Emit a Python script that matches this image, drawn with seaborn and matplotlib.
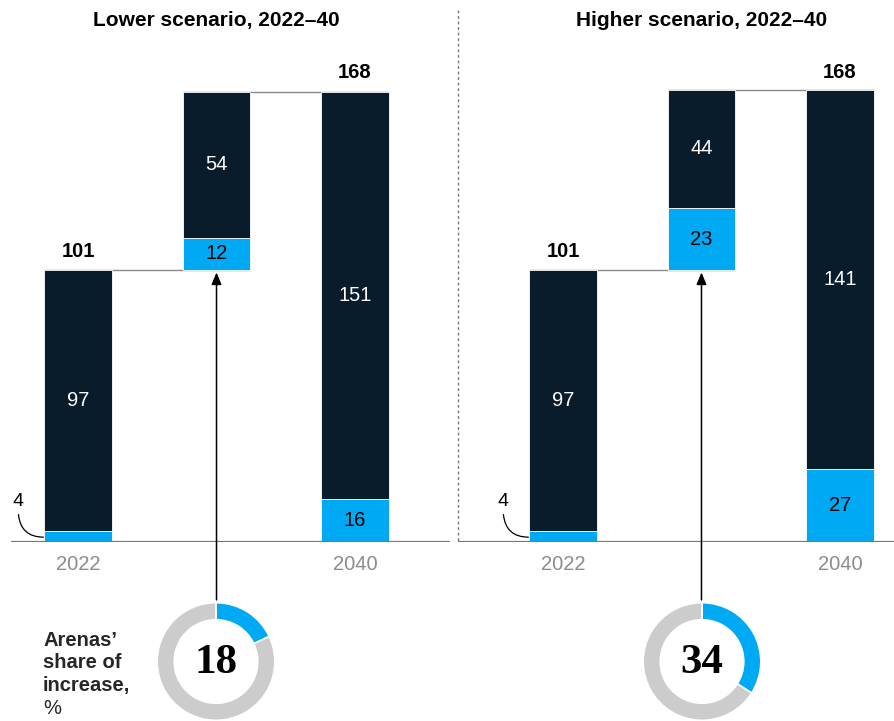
# waterfall: arenas vs other venues, lower and higher scenario
import seaborn as sns
import matplotlib.pyplot as plt
from matplotlib.lines import Line2D
import pandas as pd

steps = ["2022", "increase", "2040"]
tick_labels = ["2022", "", "2040"]

titles = ["Lower scenario, 2022\u201340", "Higher scenario, 2022\u201340"]
lower_arenas = [4, 12, 16]
lower_other = [97, 54, 151]
higher_arenas = [4, 23, 27]
higher_other = [97, 44, 141]
totals_start = [101, 101]
totals_end = [168, 168]
arena_share = [18, 34]
side_note = ["Arenas\u2019", "share of", "increase,", "%"]

NAVY = "#081c2c"
BLUE = "#00a9f4"
RING = "#cccccc"

sns.set_theme(style="white")
plt.rcParams["font.family"] = ["Liberation Sans", "DejaVu Sans"]

fig = plt.figure(figsize=(8.94, 7.21), dpi=100)

W, H = 894, 721
px = 2.693  # pixels per unit on the y axis
bar_w = 0.49

panels = [
    (lower_arenas, lower_other, [11, 450], (-0.484, 2.686), 216),
    (higher_arenas, higher_other, [458, 894], (-0.758, 2.390), 702),
]

for i, (arenas, other, xr, xlim, cx) in enumerate(panels):
    ax = fig.add_axes([xr[0] / W, 179 / H, (xr[1] - xr[0]) / W, 532 / H])
    start = arenas[0] + other[0]
    base = [0, start, 0]
    df = pd.DataFrame({"step": steps, "arenas": arenas, "other": other, "base": base})
    df["mid"] = df["base"] + df["arenas"]
    tops = df["mid"] + df["other"]

    # connector lines behind the bars
    ax.hlines(start, 0 - bar_w / 2, 1 + bar_w / 2, color="#8a8a8a", lw=1, zorder=0)
    ax.hlines(tops[1], 1 - bar_w / 2, 2 + bar_w / 2, color="#8a8a8a", lw=1, zorder=0)

    sns.barplot(data=df, x="step", y="arenas", bottom=df["base"], color=BLUE,
                width=bar_w, errorbar=None, saturation=1, ax=ax,
                edgecolor="white", linewidth=0.6, zorder=2)
    sns.barplot(data=df, x="step", y="other", bottom=df["mid"], color=NAVY,
                width=bar_w, errorbar=None, saturation=1, ax=ax,
                edgecolor="white", linewidth=0.6, zorder=2)

    ax.set_xlim(*xlim)
    ax.set_ylim(0, 532 / px)
    ax.axhline(0, color="#777777", lw=1.6, zorder=3)
    ax.set_xticks([])
    ax.set_yticks([])
    ax.set_xlabel("")
    ax.set_ylabel("")
    sns.despine(ax=ax, left=True, bottom=True)
    ax.patch.set_alpha(0)

    # segment labels
    for j in range(3):
        if arenas[j] >= 8:
            ax.text(j, df["base"][j] + arenas[j] / 2, str(arenas[j]), ha="center",
                    va="center", fontsize=14.5, color="black")
        ax.text(j, df["mid"][j] + other[j] / 2, str(other[j]), ha="center",
                va="center", fontsize=14.5, color="white")
        if tick_labels[j]:
            ax.text(j, -8.5, tick_labels[j], ha="center", va="center",
                    fontsize=14.5, color="#8c8c8c")

    ax.text(0, start + 6.8, str(totals_start[i]), ha="center", va="center",
            fontsize=14.5, fontweight="bold", color="black")
    ax.text(2, 174.2, str(totals_end[i]), ha="center", va="center",
            fontsize=14.5, fontweight="bold", color="black")
    ax.text(1, 193.8, titles[i], ha="center", va="center", fontsize=15,
            fontweight="bold", color="black")

    # small arenas value for 2022 with curved leader
    ax.text(-0.433, 15.2, str(arenas[0]), ha="center", va="center", fontsize=14,
            color="black")
    ax.annotate("", xy=(-0.25, 1.8), xytext=(-0.43, 10.2),
                arrowprops=dict(arrowstyle="-", color="black", lw=0.9,
                                connectionstyle="arc3,rad=0.45",
                                shrinkA=0, shrinkB=0))

    # arrow from donut to the increase bar
    ax.annotate("", xy=(1, start - 0.9), xytext=(1, -21.5),
                arrowprops=dict(arrowstyle="-|>,head_length=0.6,head_width=0.25",
                                color="black", lw=1.1, shrinkA=0, shrinkB=0),
                annotation_clip=False)

    # donut
    dax = fig.add_axes([(cx - 60) / W, (H - 661.5 - 60) / H, 120 / W, 120 / H])
    dax.pie([arena_share[i], 100 - arena_share[i]], colors=[BLUE, RING],
            startangle=90, counterclock=False,
            wedgeprops=dict(width=0.29, edgecolor="white", linewidth=1.2))
    dax.set_xlim(-1.02, 1.02)
    dax.set_ylim(-1.02, 1.02)
    dax.set_aspect("equal")
    dax.text(0, -0.02, str(arena_share[i]), ha="center", va="center", fontsize=31,
             fontweight="bold", family=["Liberation Serif", "DejaVu Serif"],
             color="black")

# dotted divider between panels
fig.add_artist(Line2D([458 / W, 458 / W], [1 - 10 / H, 1 - 542 / H],
                      transform=fig.transFigure, color="#777777", lw=1,
                      linestyle=(0, (2, 2))))

for k, line in enumerate(side_note):
    fig.text(43 / W, 1 - (640 + 23 * k) / H, line, ha="left", va="center",
             fontsize=14.5, fontweight="bold" if k < 3 else "normal")

fig.savefig("out.png", dpi=100)
